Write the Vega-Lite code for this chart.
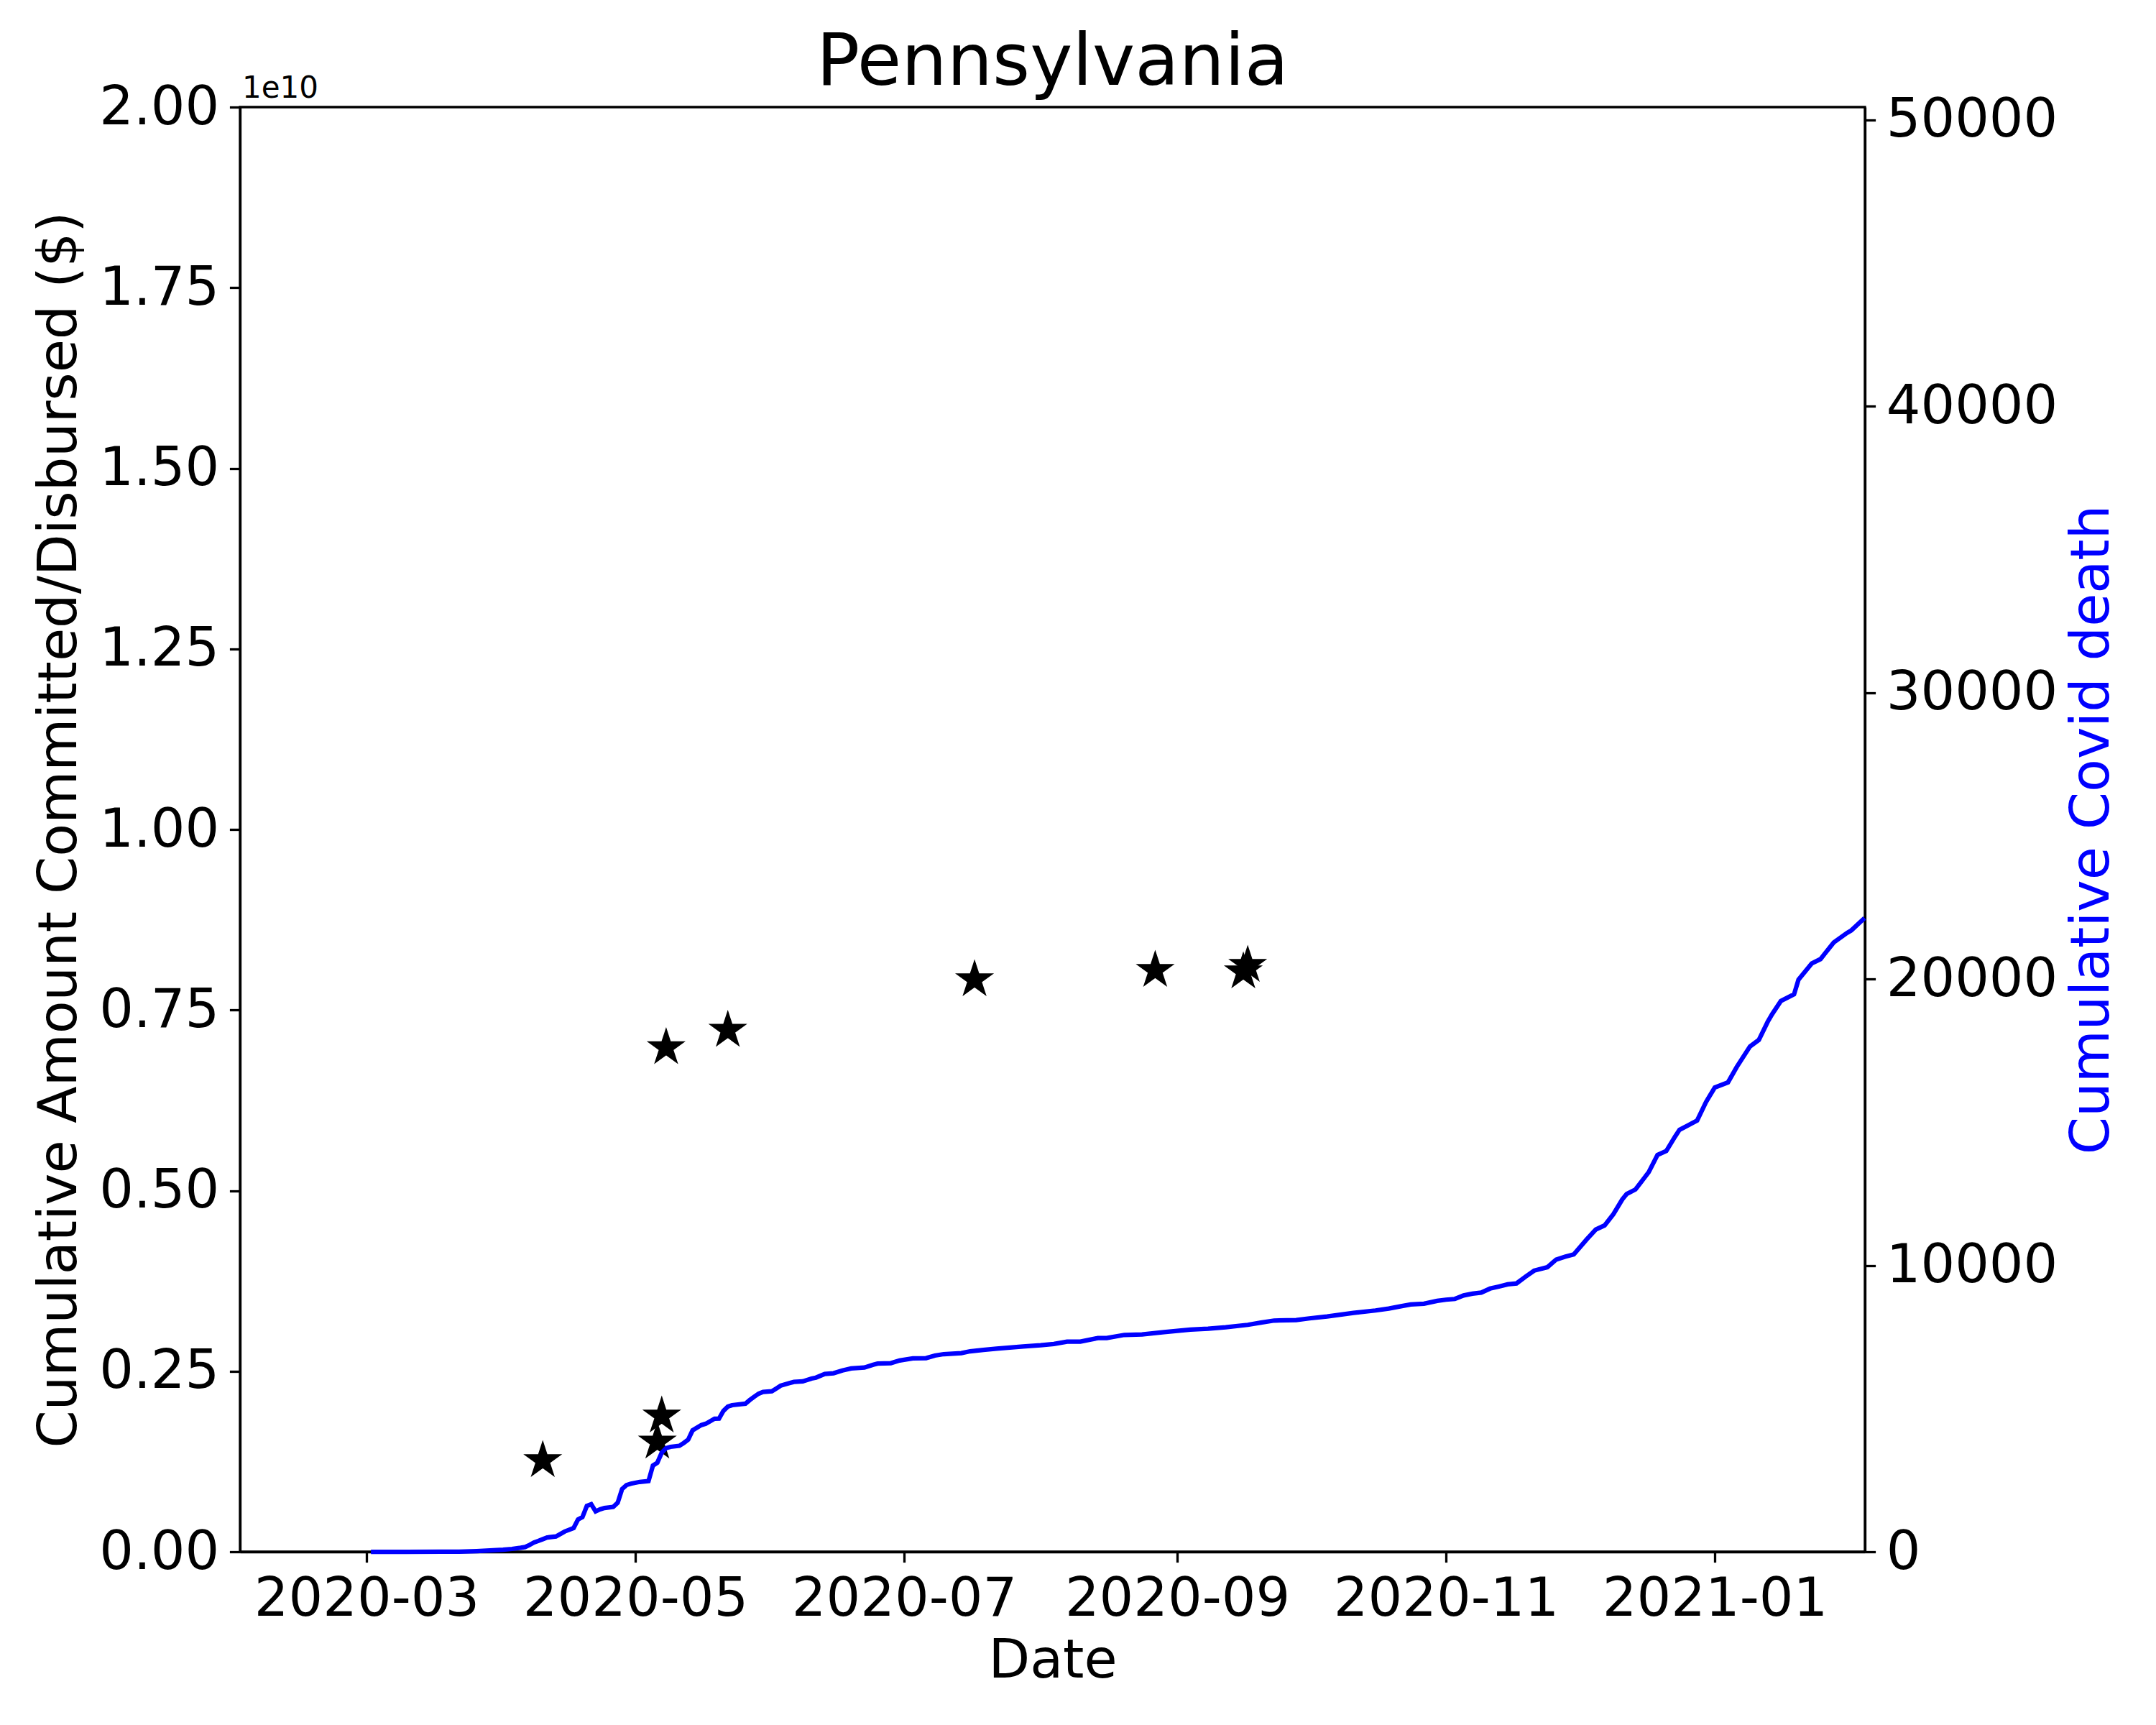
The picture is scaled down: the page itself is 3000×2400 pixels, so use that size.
{
  "$schema": "https://vega.github.io/schema/vega-lite/v6.json",
  "width": 2261,
  "height": 2010,
  "autosize": {"type": "none"},
  "padding": {"left": 334, "top": 149, "right": 405, "bottom": 241},
  "background": "white",
  "title": {"text": "Pennsylvania", "fontSize": 100, "font": "DejaVu Sans", "fontWeight": "normal", "color": "black", "baseline": "bottom", "offset": -137, "anchor": "middle"},
  "config": {
    "font": "DejaVu Sans",
    "view": {"stroke": "black", "strokeWidth": 3.3},
    "axis": {"grid": false, "domainColor": "black", "domainWidth": 3.3, "tickColor": "black", "tickWidth": 3.3, "tickSize": 14.6, "labelFontSize": 75, "labelColor": "black", "labelPadding": 14.6, "labelLimit": 0, "titleFontSize": 75, "titleFontWeight": "normal", "titleColor": "black", "labelFont": "DejaVu Sans", "titleFont": "DejaVu Sans", "labelOverlap": false, "labelFlush": false, "titleLimit": 0}
  },
  "datasets": {
    "funds": [
      {"date": "2020-04-10", "amount": 1264000000},
      {"date": "2020-05-06", "amount": 1520000000},
      {"date": "2020-05-07", "amount": 1880000000},
      {"date": "2020-05-08", "amount": 6980000000},
      {"date": "2020-05-22", "amount": 7220000000},
      {"date": "2020-07-17", "amount": 7920000000},
      {"date": "2020-08-27", "amount": 8050000000},
      {"date": "2020-09-16", "amount": 8030000000},
      {"date": "2020-09-17", "amount": 8120000000}
    ],
    "deaths": [
      {"date": "2020-03-02", "deaths": 0},
      {"date": "2020-03-10", "deaths": 0},
      {"date": "2020-03-18", "deaths": 1},
      {"date": "2020-03-22", "deaths": 6},
      {"date": "2020-03-26", "deaths": 25},
      {"date": "2020-03-29", "deaths": 45},
      {"date": "2020-04-01", "deaths": 70},
      {"date": "2020-04-03", "deaths": 100},
      {"date": "2020-04-05", "deaths": 140},
      {"date": "2020-04-06", "deaths": 165},
      {"date": "2020-04-07", "deaths": 240},
      {"date": "2020-04-08", "deaths": 326},
      {"date": "2020-04-09", "deaths": 380},
      {"date": "2020-04-10", "deaths": 440},
      {"date": "2020-04-11", "deaths": 500},
      {"date": "2020-04-13", "deaths": 535},
      {"date": "2020-04-14", "deaths": 620},
      {"date": "2020-04-15", "deaths": 710},
      {"date": "2020-04-16", "deaths": 770},
      {"date": "2020-04-17", "deaths": 830},
      {"date": "2020-04-18", "deaths": 1130},
      {"date": "2020-04-19", "deaths": 1210},
      {"date": "2020-04-20", "deaths": 1600},
      {"date": "2020-04-21", "deaths": 1660},
      {"date": "2020-04-22", "deaths": 1410},
      {"date": "2020-04-23", "deaths": 1480},
      {"date": "2020-04-24", "deaths": 1530},
      {"date": "2020-04-26", "deaths": 1565},
      {"date": "2020-04-27", "deaths": 1710},
      {"date": "2020-04-28", "deaths": 2190},
      {"date": "2020-04-29", "deaths": 2330},
      {"date": "2020-04-30", "deaths": 2380},
      {"date": "2020-05-02", "deaths": 2440},
      {"date": "2020-05-04", "deaths": 2470},
      {"date": "2020-05-05", "deaths": 3010},
      {"date": "2020-05-06", "deaths": 3110},
      {"date": "2020-05-07", "deaths": 3460},
      {"date": "2020-05-08", "deaths": 3620},
      {"date": "2020-05-09", "deaths": 3665},
      {"date": "2020-05-11", "deaths": 3700},
      {"date": "2020-05-12", "deaths": 3800},
      {"date": "2020-05-13", "deaths": 3915},
      {"date": "2020-05-14", "deaths": 4240},
      {"date": "2020-05-16", "deaths": 4425},
      {"date": "2020-05-17", "deaths": 4470},
      {"date": "2020-05-19", "deaths": 4645},
      {"date": "2020-05-20", "deaths": 4650},
      {"date": "2020-05-21", "deaths": 4920},
      {"date": "2020-05-22", "deaths": 5070},
      {"date": "2020-05-23", "deaths": 5120},
      {"date": "2020-05-26", "deaths": 5170},
      {"date": "2020-05-27", "deaths": 5300},
      {"date": "2020-05-28", "deaths": 5415},
      {"date": "2020-05-29", "deaths": 5520},
      {"date": "2020-05-30", "deaths": 5580},
      {"date": "2020-06-01", "deaths": 5605},
      {"date": "2020-06-02", "deaths": 5700},
      {"date": "2020-06-03", "deaths": 5800},
      {"date": "2020-06-05", "deaths": 5890},
      {"date": "2020-06-06", "deaths": 5930},
      {"date": "2020-06-08", "deaths": 5950},
      {"date": "2020-06-10", "deaths": 6050},
      {"date": "2020-06-11", "deaths": 6080},
      {"date": "2020-06-13", "deaths": 6210},
      {"date": "2020-06-15", "deaths": 6235},
      {"date": "2020-06-17", "deaths": 6330},
      {"date": "2020-06-19", "deaths": 6400},
      {"date": "2020-06-22", "deaths": 6434},
      {"date": "2020-06-24", "deaths": 6530},
      {"date": "2020-06-25", "deaths": 6570},
      {"date": "2020-06-28", "deaths": 6585},
      {"date": "2020-06-30", "deaths": 6680},
      {"date": "2020-07-03", "deaths": 6752},
      {"date": "2020-07-06", "deaths": 6760},
      {"date": "2020-07-08", "deaths": 6850},
      {"date": "2020-07-10", "deaths": 6900},
      {"date": "2020-07-14", "deaths": 6936},
      {"date": "2020-07-16", "deaths": 7000},
      {"date": "2020-07-19", "deaths": 7046},
      {"date": "2020-07-22", "deaths": 7090},
      {"date": "2020-07-25", "deaths": 7128},
      {"date": "2020-07-28", "deaths": 7170},
      {"date": "2020-08-01", "deaths": 7212},
      {"date": "2020-08-04", "deaths": 7254},
      {"date": "2020-08-07", "deaths": 7337},
      {"date": "2020-08-10", "deaths": 7337},
      {"date": "2020-08-14", "deaths": 7463},
      {"date": "2020-08-16", "deaths": 7463},
      {"date": "2020-08-20", "deaths": 7572},
      {"date": "2020-08-24", "deaths": 7588},
      {"date": "2020-08-29", "deaths": 7672},
      {"date": "2020-09-04", "deaths": 7756},
      {"date": "2020-09-08", "deaths": 7790},
      {"date": "2020-09-12", "deaths": 7840},
      {"date": "2020-09-17", "deaths": 7923},
      {"date": "2020-09-20", "deaths": 8000},
      {"date": "2020-09-23", "deaths": 8074},
      {"date": "2020-09-28", "deaths": 8091},
      {"date": "2020-10-01", "deaths": 8150},
      {"date": "2020-10-05", "deaths": 8216},
      {"date": "2020-10-08", "deaths": 8280},
      {"date": "2020-10-11", "deaths": 8342},
      {"date": "2020-10-16", "deaths": 8425},
      {"date": "2020-10-19", "deaths": 8492},
      {"date": "2020-10-22", "deaths": 8580},
      {"date": "2020-10-24", "deaths": 8635},
      {"date": "2020-10-27", "deaths": 8660},
      {"date": "2020-10-30", "deaths": 8760},
      {"date": "2020-11-01", "deaths": 8802},
      {"date": "2020-11-03", "deaths": 8827},
      {"date": "2020-11-05", "deaths": 8950},
      {"date": "2020-11-07", "deaths": 9011},
      {"date": "2020-11-09", "deaths": 9050},
      {"date": "2020-11-11", "deaths": 9190},
      {"date": "2020-11-13", "deaths": 9260},
      {"date": "2020-11-15", "deaths": 9337},
      {"date": "2020-11-17", "deaths": 9370},
      {"date": "2020-11-19", "deaths": 9600},
      {"date": "2020-11-21", "deaths": 9816},
      {"date": "2020-11-24", "deaths": 9934},
      {"date": "2020-11-26", "deaths": 10203},
      {"date": "2020-11-28", "deaths": 10300},
      {"date": "2020-11-30", "deaths": 10381},
      {"date": "2020-12-03", "deaths": 10918},
      {"date": "2020-12-05", "deaths": 11252},
      {"date": "2020-12-07", "deaths": 11395},
      {"date": "2020-12-09", "deaths": 11789},
      {"date": "2020-12-11", "deaths": 12300},
      {"date": "2020-12-12", "deaths": 12489},
      {"date": "2020-12-14", "deaths": 12650},
      {"date": "2020-12-17", "deaths": 13252},
      {"date": "2020-12-19", "deaths": 13855},
      {"date": "2020-12-21", "deaths": 13996},
      {"date": "2020-12-23", "deaths": 14500},
      {"date": "2020-12-24", "deaths": 14734},
      {"date": "2020-12-26", "deaths": 14892},
      {"date": "2020-12-28", "deaths": 15060},
      {"date": "2020-12-30", "deaths": 15700},
      {"date": "2021-01-01", "deaths": 16210},
      {"date": "2021-01-04", "deaths": 16390},
      {"date": "2021-01-06", "deaths": 16928},
      {"date": "2021-01-09", "deaths": 17645},
      {"date": "2021-01-11", "deaths": 17871},
      {"date": "2021-01-13", "deaths": 18500},
      {"date": "2021-01-14", "deaths": 18765},
      {"date": "2021-01-16", "deaths": 19230},
      {"date": "2021-01-19", "deaths": 19463},
      {"date": "2021-01-20", "deaths": 19975},
      {"date": "2021-01-23", "deaths": 20540},
      {"date": "2021-01-25", "deaths": 20693},
      {"date": "2021-01-28", "deaths": 21275},
      {"date": "2021-01-31", "deaths": 21606},
      {"date": "2021-02-01", "deaths": 21697},
      {"date": "2021-02-04", "deaths": 22126}
    ]
  },
  "layer": [
    {
      "layer": [
        {
          "data": {"name": "funds"},
          "mark": {"type": "point", "shape": "M0,-1L-0.2245,-0.309L-0.951,-0.309L-0.3633,0.118L-0.588,0.809L0,0.382L0.588,0.809L0.3633,0.118L0.951,-0.309L0.2245,-0.309Z", "filled": true, "color": "black", "stroke": "black", "strokeWidth": 4, "strokeJoin": "miter", "size": 1936, "opacity": 1},
          "encoding": {
            "x": {
              "field": "date", "type": "temporal",
              "scale": {"type": "utc", "domain": [{"year": 2020, "month": 2, "date": 1, "hours": 7, "utc": true}, {"year": 2021, "month": 2, "date": 4, "hours": 2, "utc": true}]},
              "axis": {
                "title": "Date", "format": "%Y-%m", "labelAngle": 0, "titlePadding": 12,
                "values": [
                  {"year": 2020, "month": 3, "date": 1, "utc": true},
                  {"year": 2020, "month": 5, "date": 1, "utc": true},
                  {"year": 2020, "month": 7, "date": 1, "utc": true},
                  {"year": 2020, "month": 9, "date": 1, "utc": true},
                  {"year": 2020, "month": 11, "date": 1, "utc": true},
                  {"year": 2021, "month": 1, "date": 1, "utc": true}
                ]
              }
            },
            "y": {
              "field": "amount", "type": "quantitative",
              "scale": {"domain": [0, 20000000000]},
              "axis": {
                "title": "Cumulative Amount Committed/Disbursed ($)",
                "values": [0, 2500000000, 5000000000, 7500000000, 10000000000, 12500000000, 15000000000, 17500000000, 20000000000],
                "labelExpr": "format(datum.value / 1e10, '.2f')",
                "titlePadding": 16, "titleBaseline": "bottom"
              }
            }
          }
        },
        {
          "data": {"values": [{"label": "1e10"}]},
          "mark": {"type": "text", "fontSize": 42, "align": "left", "baseline": "alphabetic", "dx": 3, "dy": -13, "color": "black", "font": "DejaVu Sans"},
          "encoding": {
            "text": {"field": "label", "type": "nominal"},
            "x": {"datum": {"year": 2020, "month": 2, "date": 1, "hours": 7, "utc": true}, "type": "temporal", "scale": {"type": "utc"}},
            "y": {"datum": 20000000000, "type": "quantitative"}
          }
        }
      ]
    },
    {
      "data": {"name": "deaths"},
      "mark": {"type": "line", "color": "blue", "strokeWidth": 6.25},
      "encoding": {
        "x": {"field": "date", "type": "temporal", "scale": {"type": "utc"}},
        "y": {
          "field": "deaths", "type": "quantitative",
          "scale": {"domain": [0, 50440]},
          "axis": {
            "orient": "right", "title": "Cumulative Covid death", "titleColor": "blue",
            "values": [0, 10000, 20000, 30000, 40000, 50000], "format": "d",
            "titleAngle": 270, "titleBaseline": "top", "titlePadding": 79
          }
        }
      }
    }
  ],
  "resolve": {"scale": {"y": "independent"}}
}
